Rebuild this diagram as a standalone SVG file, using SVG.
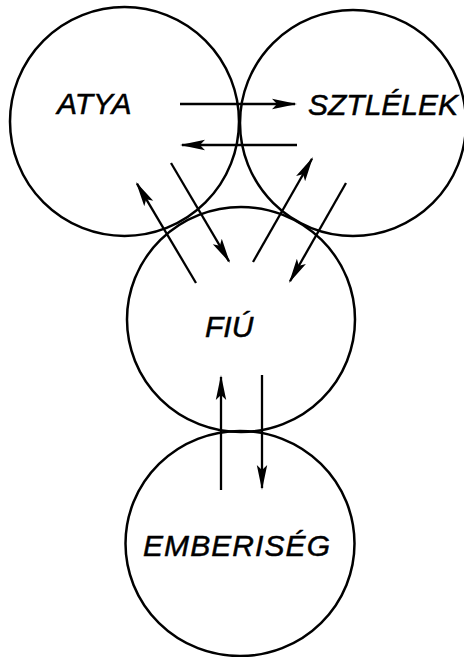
<svg xmlns="http://www.w3.org/2000/svg" width="464" height="657" viewBox="0 0 464 657">
<style>
.node{fill:none;stroke:#000;stroke-width:2.5}
.lbl{font-family:"Liberation Sans",Arial,sans-serif;font-style:italic;font-size:30px;fill:#000;stroke:#000;stroke-width:0.5}
.arr{stroke:#000;stroke-width:2.3;fill:none;marker-end:url(#head)}
</style>
<defs>
<marker id="head" markerUnits="userSpaceOnUse" markerWidth="28" markerHeight="14" refX="23" refY="7" orient="auto">
<path d="M25,7 L0,1.8 L5,7 L0,12.2 Z" fill="#000"/>
</marker>
</defs>
<rect width="464" height="657" fill="#fff"/>
<g id="atya">
<circle class="node" cx="124.5" cy="121.5" r="114.5"/>
<text class="lbl" x="57" y="114">ATYA</text>
</g>
<g id="sztlelek">
<circle class="node" cx="353" cy="123" r="113"/>
<text class="lbl" x="308" y="115">SZTLÉLEK</text>
</g>
<g id="fiu">
<ellipse class="node" cx="241" cy="319.5" rx="114" ry="112.5"/>
<text class="lbl" x="205" y="337">FIÚ</text>
</g>
<g id="emberiseg">
<ellipse class="node" cx="240" cy="543.5" rx="114.5" ry="112.5"/>
<text class="lbl" x="143" y="556" textLength="187" lengthAdjust="spacing">EMBERISÉG</text>
</g>
<g id="connectors">
<line class="arr" x1="180" y1="104" x2="295" y2="104"/>
<line class="arr" x1="297" y1="145" x2="182" y2="145"/>
<line class="arr" x1="171" y1="163" x2="229" y2="261.3"/>
<line class="arr" x1="196" y1="283" x2="137" y2="183.7"/>
<line class="arr" x1="253" y1="262" x2="312" y2="158.7"/>
<line class="arr" x1="346" y1="183" x2="290" y2="281.3"/>
<line class="arr" x1="221" y1="490" x2="221" y2="377"/>
<line class="arr" x1="262" y1="375" x2="262" y2="488"/>
</g>
</svg>
